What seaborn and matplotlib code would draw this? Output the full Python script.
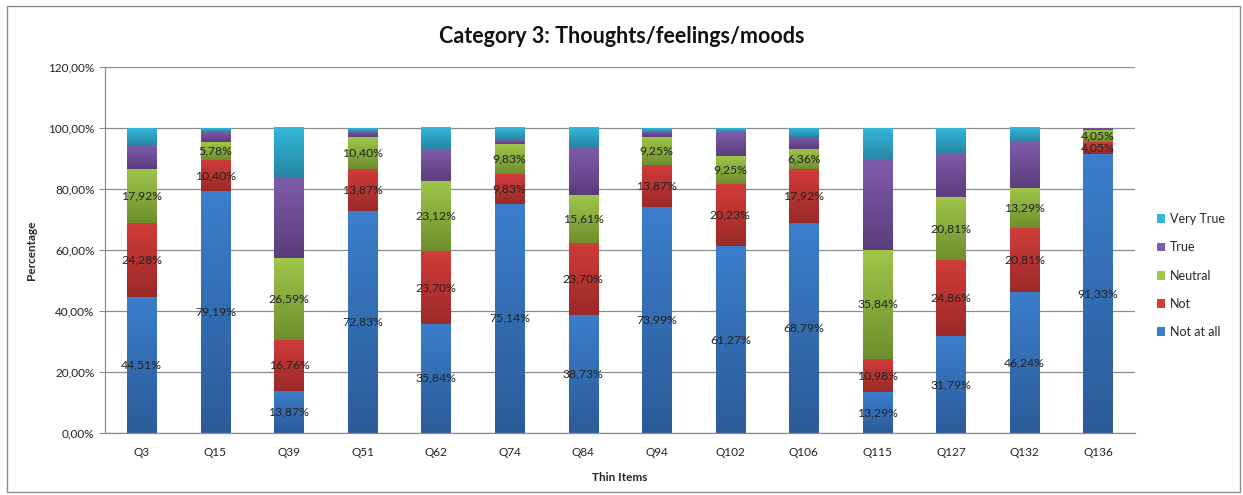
import numpy as np
import pandas as pd
import matplotlib
matplotlib.use("Agg")
import matplotlib.pyplot as plt
import seaborn as sns
from matplotlib.colors import LinearSegmentedColormap
from matplotlib.patches import Patch, Rectangle
from matplotlib.ticker import FuncFormatter, MultipleLocator

# Data (percent of respondents per answer)
items = ["Q3", "Q15", "Q39", "Q51", "Q62", "Q74", "Q84", "Q94",
         "Q102", "Q106", "Q115", "Q127", "Q132", "Q136"]
not_at_all = [44.51, 79.19, 13.87, 72.83, 35.84, 75.14, 38.73, 73.99,
              61.27, 68.79, 13.29, 31.79, 46.24, 91.33]
not_ = [24.28, 10.40, 16.76, 13.87, 23.70, 9.83, 23.70, 13.87,
        20.23, 17.92, 10.98, 24.86, 20.81, 4.05]
neutral = [17.92, 5.78, 26.59, 10.40, 23.12, 9.83, 15.61, 9.25,
           9.25, 6.36, 35.84, 20.81, 13.29, 4.05]
true_ = [7.51, 3.47, 26.59, 1.73, 10.40, 1.16, 15.61, 1.73,
         8.09, 4.05, 29.48, 14.45, 15.03, 0.58]
very_true = [5.78, 1.16, 16.18, 1.16, 6.94, 4.05, 6.36, 1.16,
             1.16, 2.89, 10.40, 8.09, 4.62, 0.00]

series_names = ["Not at all", "Not", "Neutral", "True", "Very True"]
series_values = [not_at_all, not_, neutral, true_, very_true]
labelled = ["Not at all", "Not", "Neutral"]

# light (top) and dark (bottom) shade of each series, Excel 2007 look
shades = {
    "Not at all": ("#3b7ecc", "#2c5b98"),
    "Not": ("#d23c39", "#9a2a28"),
    "Neutral": ("#a0c64a", "#6f8e2e"),
    "True": ("#7f5cab", "#5a3d7b"),
    "Very True": ("#35b7da", "#2686a4"),
}

sns.set_style("white")
plt.rcParams["font.family"] = ["Lato", "DejaVu Sans"]

fig = plt.figure(figsize=(12.43, 4.95), dpi=100)
ax = fig.add_axes([0.0845, 0.1253, 0.8286, 0.7393])

df = pd.DataFrame({"item": items})
bottom = np.zeros(len(items))
for name, vals in zip(series_names, series_values):
    df[name] = vals
    sns.barplot(data=df, x="item", y=name, order=items, width=0.4,
                color=shades[name][0], bottom=bottom.copy(),
                linewidth=0, ax=ax, zorder=2)
    bottom += np.array(vals)

# vertical gradient on every segment
bar_patches = [p for p in ax.patches]
k = 0
for name, vals in zip(series_names, series_values):
    cmap = LinearSegmentedColormap.from_list(name, [shades[name][1], shades[name][0]])
    grad = np.linspace(0, 1, 64).reshape(-1, 1)
    for i in range(len(items)):
        p = bar_patches[k]
        k += 1
        x0, y0 = p.get_x(), p.get_y()
        w, h = p.get_width(), p.get_height()
        if h <= 0:
            continue
        ax.imshow(grad, extent=[x0, x0 + w, y0, y0 + h], origin="lower",
                  cmap=cmap, aspect="auto", zorder=2.5, interpolation="bicubic")

# value labels on the lower three answers
bottom = np.zeros(len(items))
for name, vals in zip(series_names, series_values):
    if name in labelled:
        for i, v in enumerate(vals):
            ax.text(i, bottom[i] + v / 2, f"{v:.2f}%".replace(".", ","),
                    ha="center", va="center", fontsize=8.8, color="#222222",
                    zorder=4)
    bottom += np.array(vals)

ax.set_xlim(-0.5, len(items) - 0.5)
ax.set_ylim(0, 120)
ax.yaxis.set_major_locator(MultipleLocator(20))
ax.yaxis.set_major_formatter(FuncFormatter(lambda v, _: f"{v:.2f}%".replace(".", ",")))
ax.grid(axis="y", color="#8c8c8c", linewidth=0.9, zorder=0)
ax.set_axisbelow(True)

ax.set_xticks(range(len(items)))
ax.set_xticklabels(items)
ax.set_xticks(np.arange(-0.5, len(items)), minor=True)
ax.tick_params(axis="x", which="major", length=0, pad=10, labelsize=8.5, colors="#222222")
ax.tick_params(axis="x", which="minor", length=4, color="#8c8c8c", direction="out")
ax.tick_params(axis="y", length=4, color="#8c8c8c", direction="out", labelsize=8.5,
               labelcolor="#222222", left=True)

for side in ["top", "right"]:
    ax.spines[side].set_visible(False)
for side in ["left", "bottom"]:
    ax.spines[side].set_color("#8c8c8c")
    ax.spines[side].set_linewidth(0.9)

ax.set_xlabel("Thin Items", fontsize=8.5, fontweight="bold", labelpad=10)
ax.set_ylabel("Percentage", fontsize=8.5, fontweight="bold", labelpad=8)
fig.text(0.5, 0.927, "Category 3: Thoughts/feelings/moods", fontsize=15.5,
         fontweight="bold", ha="center", va="center", color="#111111")

handles = [Patch(facecolor=shades[n][0], edgecolor="none") for n in reversed(series_names)]
ax.legend(handles, list(reversed(series_names)), loc="center left",
          bbox_to_anchor=(1.01, 0.43), frameon=False, fontsize=9,
          handlelength=0.7, handleheight=0.7, handletextpad=0.4, labelspacing=1.3)

# outer chart frame
fig.patches.append(Rectangle((0.0056, 0.006), 0.9922, 0.982, transform=fig.transFigure,
                             fill=False, edgecolor="#8c8c8c", linewidth=1.0))

fig.savefig("out.png", dpi=100)
